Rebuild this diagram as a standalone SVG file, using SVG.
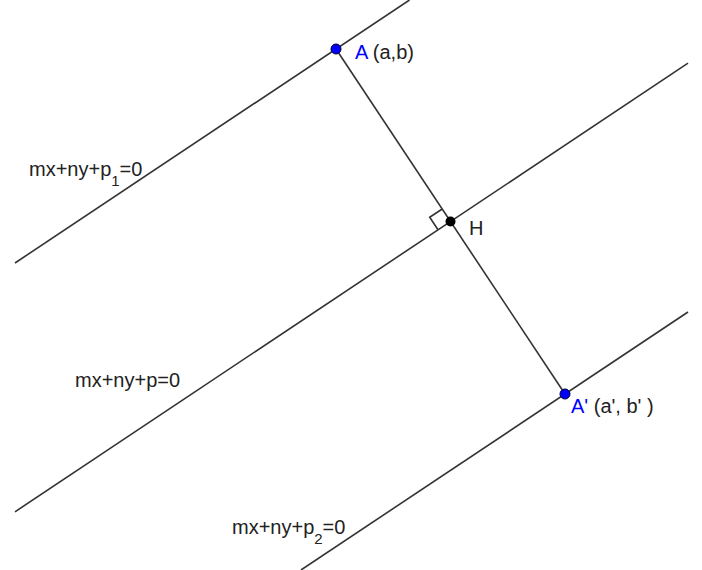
<svg xmlns="http://www.w3.org/2000/svg" width="702" height="570" viewBox="0 0 702 570">
  <style>
    .ln { stroke: #333333; stroke-width: 1.6; fill: none; stroke-linecap: butt; }
    .txt { font-family: "Liberation Sans", Arial, sans-serif; font-size: 20px; fill: #222222; }
    .sub { font-size: 15px; }
    .blue { fill: #0000ff; }
    .bpt { fill: #0000ff; stroke: #000033; stroke-width: 1; }
    .kpt { fill: #000000; }
  </style>
  <rect width="702" height="570" fill="#ffffff"/>
  <g id="connectors">
    <line id="line-p1" class="ln" x1="15" y1="263" x2="409.5" y2="0"/>
    <line id="line-p" class="ln" x1="15" y1="511.8" x2="688" y2="63.2"/>
    <line id="line-p2" class="ln" x1="301" y1="570" x2="688" y2="312"/>
    <line id="seg-AA" class="ln" x1="336" y1="49" x2="565" y2="394"/>
    <path id="right-angle" class="ln" d="M442.2,209 L429.7,217.3 L438,229.8"/>
  </g>
  <g id="label-p1">
    <text class="txt" x="29" y="176">mx+ny+p<tspan class="sub" dy="10">1</tspan><tspan dy="-10">=0</tspan></text>
  </g>
  <g id="label-p">
    <text class="txt" x="75" y="387">mx+ny+p=0</text>
  </g>
  <g id="label-p2">
    <text class="txt" x="232" y="534">mx+ny+p<tspan class="sub" dy="10">2</tspan><tspan dy="-10">=0</tspan></text>
  </g>
  <g id="node-A">
    <circle class="bpt" cx="336" cy="49" r="5"/>
    <text class="txt" x="355" y="59"><tspan class="blue">A</tspan> (a,b)</text>
  </g>
  <g id="node-H">
    <circle class="kpt" cx="450.5" cy="221.5" r="5"/>
    <text class="txt" x="469" y="235">H</text>
  </g>
  <g id="node-A2">
    <circle class="bpt" cx="565" cy="394" r="5"/>
    <text class="txt" x="571" y="413"><tspan class="blue">A'</tspan> (a', b' )</text>
  </g>
</svg>
